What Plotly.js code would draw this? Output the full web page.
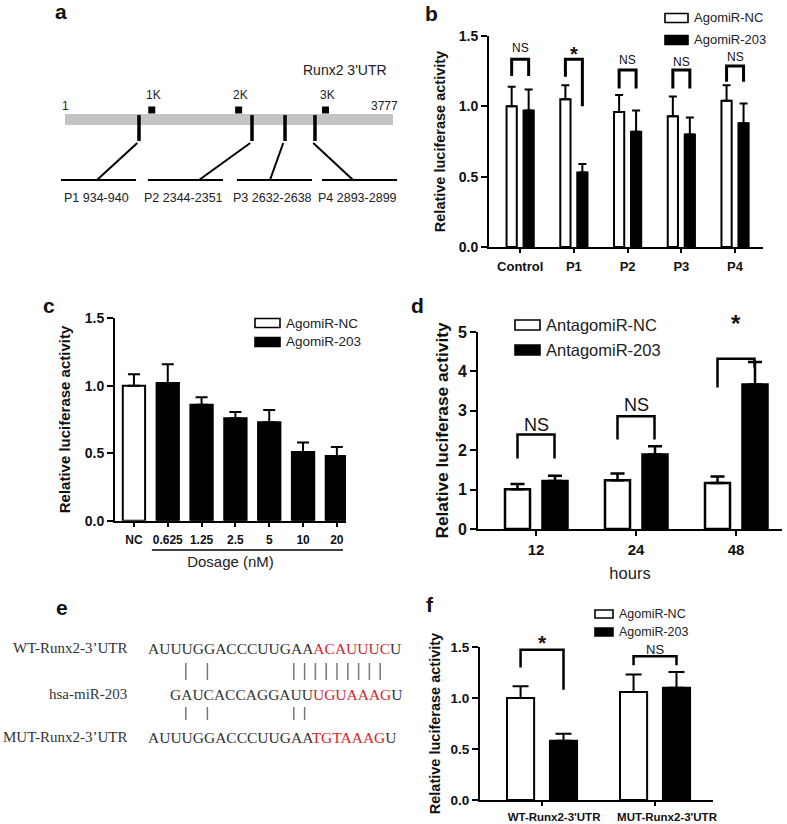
<!DOCTYPE html>
<html><head><meta charset="utf-8">
<script src="https://cdn.plot.ly/plotly-3.0.1.min.js"></script>
<style>html,body{margin:0;padding:0;background:#fff}#chart{width:787px;height:824px}</style>
</head><body><div id="chart"></div>
<script>
// ---------------- DATA ----------------
// panel a (schematic of Runx2 3'UTR)
const utrLength = 3777;
const kbMarks = [1000, 2000, 3000];
const kbLabels = ['1K', '2K', '3K'];
const siteLabels = ['P1 934-940', 'P2 2344-2351', 'P3 2632-2638', 'P4 2893-2899'];
const siteDrawnPos = [853, 2154, 2534, 2879];      // schematic (not to scale) positions
const siteBoxCenter = [387, 1388, 2413, 3392];
const siteLinkEnd = [369, 1544, 2361, 3317];
// panel b
const bCats = ['Control', 'P1', 'P2', 'P3', 'P4'];
const bNC = [1.00, 1.05, 0.96, 0.93, 1.04];
const bNCerr = [0.14, 0.10, 0.12, 0.14, 0.11];
const b203 = [0.97, 0.53, 0.82, 0.80, 0.88];
const b203err = [0.15, 0.06, 0.15, 0.12, 0.14];
const bSig = ['NS', '*', 'NS', 'NS', 'NS'];
const bBracketTop = [1.334, 1.334, 1.258, 1.258, 1.287];
const bLegL = [1.215, 1.21, 1.127, 1.127, 1.175];
const bLegR = [1.215, 1.00, 1.127, 1.127, 1.175];
const bSigY = [1.414, 1.372, 1.329, 1.317, 1.353];
// panel c
const cCats = ['NC', '0.625', '1.25', '2.5', '5', '10', '20'];
const cNC = [1.00];
const cNCerr = [0.085];
const c203 = [1.02, 0.86, 0.76, 0.73, 0.51, 0.48];
const c203err = [0.14, 0.055, 0.045, 0.09, 0.07, 0.067];
// panel d
const dCats = ['12', '24', '48'];
const dNC = [1.01, 1.24, 1.17];
const dNCerr = [0.13, 0.17, 0.16];
const d203 = [1.22, 1.89, 3.67];
const d203err = [0.13, 0.21, 0.57];
const dSig = ['NS', 'NS', '*'];
const dBracketTop = [2.40, 2.86, 4.32];
const dLegL = [1.79, 2.27, 3.59];
const dLegR = [1.79, 2.27, 4.10];
const dSigY = [2.635, 3.14, 5.21];
// panel e
const eRowLabels = ['WT-Runx2-3\u2019UTR', 'hsa-miR-203', 'MUT-Runx2-3\u2019UTR'];
const eSeqPlain = ['AUUUGGACCCUUGAA', 'GAUCACCAGGAUU', 'AUUUGGACCCUUGAA'];
const eSeqSeed = ['ACAUUUC', 'UGUAAAG', 'TGTAAAG'];
const eSeqTail = ['U', 'U', 'U'];
const eSeqStartCol = [0, 2, 0];
const ePairsWT = [3, 5, 13, 14, 15, 16, 17, 18, 19, 20, 21];
const ePairsMUT = [3, 5, 13, 14];
// panel f
const fCats = ['WT-Runx2-3\'UTR', 'MUT-Runx2-3\'UTR'];
const fNC = [1.00, 1.06];
const fNCerr = [0.115, 0.17];
const f203 = [0.58, 1.10];
const f203err = [0.07, 0.155];
const fSig = ['*', 'NS'];
const fBracketTop = [1.474, 1.41];
const fLegL = [1.30, 1.32];
const fLegR = [1.08, 1.32];
const fSigY = [1.542, 1.48];

// ---------------- HELPERS ----------------
const W = 787, H = 824;
const PX = p => p / W, PY = p => 1 - p / H;
const FONT = 'Liberation Sans, Arial, sans-serif';
const SERIF = 'Liberation Serif, Times New Roman, serif';
const idx = a => a.map((_, i) => i);
const zeros = a => a.map(() => 0);
const traces = [], shapes = [], annotations = [];

function bars(xs, ys, errs, fill, width, offset, ax, lw, et, ew) {
  traces.push({
    type: 'bar', x: xs, y: ys, width: width, offset: offset,
    xaxis: 'x' + ax, yaxis: 'y' + ax, hoverinfo: 'skip',
    marker: {color: fill, line: {color: 'black', width: lw}},
    error_y: {type: 'data', symmetric: false, array: errs, arrayminus: zeros(errs),
              color: 'black', thickness: et, width: ew}
  });
}
// pxPerUnit converts the label height above the bracket into a pixel shift,
// so labels above the axis range are still drawn.
function brackets(ax, off, tops, legL, legR, sig, sigY, lw, nsSize, starSize, pxPerUnit) {
  tops.forEach((t, i) => {
    const x1 = i - off, x2 = i + off;
    shapes.push({type: 'path', xref: 'x' + ax, yref: 'y' + ax,
      path: `M ${x1},${legL[i]} L ${x1},${t} L ${x2},${t} L ${x2},${legR[i]}`,
      line: {color: 'black', width: lw}});
    const star = sig[i] === '*';
    annotations.push({xref: 'x' + ax, yref: 'y' + ax, x: i, y: t, yshift: (sigY[i] - t) * pxPerUnit,
      text: sig[i], showarrow: false, xanchor: 'center', yanchor: 'middle',
      font: {family: FONT, size: star ? starSize : nsSize, color: '#111', weight: star ? 'bold' : 'normal'}});
  });
}
function legend(x0, x1, ys, h, labels, size) {
  ys.forEach((y, i) => {
    shapes.push({type: 'rect', xref: 'paper', yref: 'paper', x0: PX(x0), x1: PX(x1),
      y0: PY(y + h / 2), y1: PY(y - h / 2), fillcolor: i === 0 ? 'white' : 'black',
      line: {color: 'black', width: 1.6}});
    annotations.push({xref: 'paper', yref: 'paper', x: PX(x1 + 4), y: PY(y), text: labels[i],
      showarrow: false, xanchor: 'left', yanchor: 'middle', font: {family: FONT, size: size, color: '#222'}});
  });
}
function label(t, x, y, size, opt) {
  annotations.push(Object.assign({xref: 'paper', yref: 'paper', x: PX(x), y: PY(y), text: t,
    showarrow: false, xanchor: 'center', yanchor: 'middle',
    font: {family: FONT, size: size, color: '#111'}}, opt || {}));
}

// ---------------- PANEL B ----------------
bars(idx(bCats), bNC, bNCerr, 'white', 0.19, -0.158 - 0.095, '', 2, 2, 4);
bars(idx(bCats), b203, b203err, 'black', 0.19, 0.158 - 0.095, '', 2, 2, 4);
brackets('', 0.158, bBracketTop, bLegL, bLegR, bSig, bSigY, 3, 12, 20, (247 - 36) / 1.5);
legend(665, 688, [18, 40], 9, ['AgomiR-NC', 'AgomiR-203'], 13);

// ---------------- PANEL C ----------------
bars([0], cNC, cNCerr, 'white', 0.66, -0.33, '2', 2, 2, 6);
bars(idx(c203).map(i => i + 1), c203, c203err, 'black', 0.66, -0.33, '2', 2, 2, 6);
legend(255, 280, [323, 342], 9, ['AgomiR-NC', 'AgomiR-203'], 13.5);
shapes.push({type: 'line', xref: 'x2', yref: 'paper', x0: 0.53, x1: 6.18, y0: PY(550), y1: PY(550),
  line: {color: 'black', width: 1.6}});

// ---------------- PANEL D ----------------
bars(idx(dCats), dNC, dNCerr, 'white', 0.25, -0.185 - 0.125, '3', 2.5, 2.5, 7);
bars(idx(dCats), d203, d203err, 'black', 0.25, 0.19 - 0.125, '3', 2.5, 2.5, 7);
brackets('3', 0.185, dBracketTop, dLegL, dLegR, dSig, dSigY, 2.5, 18, 24, (529 - 332) / 5);
legend(515, 540, [325, 350], 10, ['AntagomiR-NC', 'AntagomiR-203'], 16.5);

// ---------------- PANEL F ----------------
bars(idx(fCats), fNC, fNCerr, 'white', 0.24, -0.19 - 0.12, '4', 2, 2, 8);
bars(idx(fCats), f203, f203err, 'black', 0.24, 0.19 - 0.12, '4', 2, 2, 8);
brackets('4', 0.19, fBracketTop, fLegL, fLegR, fSig, fSigY, 2.5, 13, 21, (800 - 647) / 1.5);
legend(595, 613, [614, 632], 8, ['AgomiR-NC', 'AgomiR-203'], 12.5);

// ---------------- PANEL A ----------------
shapes.push({type: 'rect', xref: 'x5', yref: 'y5', x0: 1, x1: utrLength, y0: 114, y1: 125,
  fillcolor: '#c4c4c4', line: {width: 0}, layer: 'below'});
traces.push({type: 'scatter', mode: 'markers', x: kbMarks, y: kbMarks.map(() => 110),
  xaxis: 'x5', yaxis: 'y5', hoverinfo: 'skip', marker: {symbol: 'square', size: 7, color: 'black'}});
kbMarks.forEach((m, i) => annotations.push({xref: 'x5', yref: 'y5', x: m, y: 95, text: kbLabels[i],
  showarrow: false, xshift: 2, font: {family: FONT, size: 12, color: '#222'}}));
annotations.push({xref: 'x5', yref: 'y5', x: 1, y: 106, text: '1', showarrow: false,
  font: {family: FONT, size: 12, color: '#222'}});
annotations.push({xref: 'x5', yref: 'y5', x: utrLength, y: 106, text: String(utrLength), showarrow: false,
  xanchor: 'right', xshift: 7, font: {family: FONT, size: 12, color: '#222'}});
annotations.push({xref: 'x5', yref: 'y5', x: utrLength, y: 70, text: 'Runx2 3\'UTR', showarrow: false,
  xanchor: 'right', xshift: -4, font: {family: FONT, size: 14, color: '#222'}});
siteDrawnPos.forEach((p, i) => {
  shapes.push({type: 'line', xref: 'x5', yref: 'y5', x0: p, x1: p, y0: 115, y1: 141, line: {color: 'black', width: 3.5}});
  shapes.push({type: 'line', xref: 'x5', yref: 'y5', x0: p - 20, x1: siteLinkEnd[i], y0: 143, y1: 180, line: {color: 'black', width: 2}});
  shapes.push({type: 'line', xref: 'x5', yref: 'y5', x0: siteBoxCenter[i] - 432, x1: siteBoxCenter[i] + 432, y0: 180, y1: 180, line: {color: 'black', width: 2}});
  annotations.push({xref: 'x5', yref: 'y5', x: siteBoxCenter[i] - 20, y: 198, text: siteLabels[i], showarrow: false,
    font: {family: FONT, size: 12.5, color: '#222'}});
});

// ---------------- PANEL E ----------------
const eRowY = [648, 694, 737];
const eSeqX0 = 148, eCharW = 10.8;
eRowLabels.forEach((t, i) => {
  label(t, 129, eRowY[i], 15, {xanchor: 'right', font: {family: SERIF, size: 15, color: '#333'}});
  const seq = eSeqPlain[i] + '<span style="color:#d1262c">' + eSeqSeed[i] + '</span>' + eSeqTail[i];
  label(seq, eSeqX0 + eSeqStartCol[i] * eCharW - 2, eRowY[i], 15.5, {xanchor: 'left', font: {family: SERIF, size: 15.5, color: '#333'}});
});
function pairLines(cols, y0, y1) {
  cols.forEach(c => {
    const x = eSeqX0 + (c + 0.5) * eCharW;
    shapes.push({type: 'line', xref: 'paper', yref: 'paper', x0: PX(x), x1: PX(x), y0: PY(y0), y1: PY(y1),
      line: {color: '#777', width: 1.5}});
  });
}
pairLines(ePairsWT, 663, 680);
pairLines(ePairsMUT, 707, 720);

// ---------------- PANEL LABELS ----------------
[['a', 61, 12, 'middle'], ['b', 431, 0, 'top'], ['c', 49, 306, 'middle'], ['d', 417, 306, 'middle'],
 ['e', 62, 607, 'middle'], ['f', 430, 604, 'middle']].forEach(l =>
  label(l[0], l[1], l[2], 21, {yanchor: l[3], font: {family: FONT, size: 21, color: '#111', weight: 'bold'}}));

// ---------------- AXES ----------------
const baseAx = {showline: true, linecolor: 'black', linewidth: 2, ticks: 'outside', tickcolor: 'black',
  tickwidth: 2, ticklen: 5, showgrid: false, zeroline: false, fixedrange: true};
const tf = s => ({family: FONT, size: s, color: '#111', weight: 'bold'});
const ytitle = (s) => ({text: 'Relative luciferase activity', font: {family: FONT, size: s, color: '#111', weight: 'bold'}});

const layout = {
  width: W, height: H, margin: {l: 0, r: 0, t: 0, b: 0}, paper_bgcolor: 'white', plot_bgcolor: 'rgba(0,0,0,0)',
  showlegend: false, barmode: 'overlay', font: {family: FONT, color: '#222'},
  // b
  xaxis: Object.assign({}, baseAx, {domain: [PX(489), PX(763)], range: [-0.58, 4.52], anchor: 'y',
    tickvals: idx(bCats), ticktext: bCats, tickfont: tf(13), ticklen: 4, ticklabelstandoff: 2}),
  yaxis: Object.assign({}, baseAx, {domain: [PY(247), PY(36)], range: [0, 1.5], anchor: 'x',
    tickvals: [0, 0.5, 1, 1.5], tickformat: '.1f', tickfont: tf(14), ticklen: 6,
    title: Object.assign(ytitle(14.5), {standoff: 10})}),
  // c
  xaxis2: Object.assign({}, baseAx, {domain: [PX(115), PX(346)], range: [-0.56, 6.27], anchor: 'y2',
    tickvals: idx(cCats), ticktext: cCats, tickfont: tf(12), ticklen: 4, ticklabelstandoff: 3,
    title: {text: 'Dosage (nM)', font: {family: FONT, size: 15, color: '#222'}, standoff: 10}}),
  yaxis2: Object.assign({}, baseAx, {domain: [PY(520.7), PY(318.3)], range: [0, 1.5], anchor: 'x2',
    tickvals: [0, 0.5, 1, 1.5], tickformat: '.1f', tickfont: tf(14), ticklen: 6,
    title: Object.assign(ytitle(15), {standoff: 10})}),
  // d
  xaxis3: Object.assign({}, baseAx, {domain: [PX(478), PX(782)], range: [-0.58, 2.46], anchor: 'y3',
    tickvals: idx(dCats), ticktext: dCats, tickfont: tf(15), ticklen: 5, ticklabelstandoff: 1,
    title: {text: 'hours', font: {family: FONT, size: 16.5, color: '#222'}, standoff: 10}}),
  yaxis3: Object.assign({}, baseAx, {domain: [PY(529), PY(332)], range: [0, 5], anchor: 'x3',
    tickvals: [0, 1, 2, 3, 4, 5], tickfont: tf(16), ticklen: 6,
    title: Object.assign(ytitle(17.3), {standoff: 5})}),
  // f
  xaxis4: Object.assign({}, baseAx, {domain: [PX(480), PX(713)], range: [-0.549, 1.513], anchor: 'y4',
    tickvals: idx(fCats), ticktext: fCats, tickfont: tf(11.5), ticklen: 4, ticklabelstandoff: 1, ticklabelshift: 12}),
  yaxis4: Object.assign({}, baseAx, {domain: [PY(800), PY(647)], range: [0, 1.5], anchor: 'x4',
    tickvals: [0, 0.5, 1, 1.5], tickformat: '.1f', tickfont: tf(13.5), ticklen: 6,
    title: Object.assign(ytitle(14.5), {standoff: 6})}),
  // a (schematic)
  xaxis5: {domain: [0, PX(410)], range: [1 - 65 / 0.08686, 1 + (410 - 65) / 0.08686], visible: false, fixedrange: true, anchor: 'y5'},
  yaxis5: {domain: [PY(300), 1], range: [300, 0], visible: false, fixedrange: true, anchor: 'x5'},
  shapes: shapes, annotations: annotations
};
Plotly.newPlot('chart', traces, layout, {staticPlot: true});
</script></body></html>
